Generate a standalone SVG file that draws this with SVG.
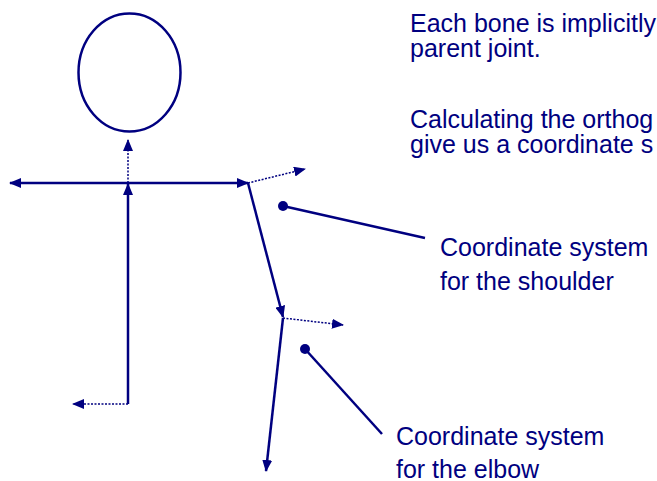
<svg xmlns="http://www.w3.org/2000/svg" width="657" height="481" viewBox="0 0 657 481">
<style>
.solid{stroke:#000080;stroke-width:2.5;fill:none}
.dot{stroke:#000080;stroke-width:1.5;stroke-dasharray:2,1.5;fill:none}
.lead{stroke:#000080;stroke-width:2.5;fill:none}
.t{font-family:"Liberation Sans",Arial,sans-serif;font-size:25px;fill:#000080}
</style>
<defs>
<marker id="ah" viewBox="0 0 12 10" refX="11" refY="5" markerWidth="12" markerHeight="10" markerUnits="userSpaceOnUse" orient="auto-start-reverse">
<path d="M0,0 L12,5 L0,10 z" fill="#000080"/>
</marker>
</defs>
<rect width="657" height="481" fill="#ffffff"/>
<g id="head"><ellipse cx="129.5" cy="72.5" rx="51" ry="59" fill="none" stroke="#000080" stroke-width="2.5"/></g>
<g id="connectors">
<line class="solid" x1="10" y1="183" x2="248" y2="183" marker-start="url(#ah)" marker-end="url(#ah)"/>
<line class="solid" x1="128" y1="404" x2="128" y2="184" marker-end="url(#ah)"/>
<line class="dot" x1="128" y1="183" x2="128" y2="140" marker-end="url(#ah)"/>
<line class="dot" x1="128" y1="404" x2="73" y2="404" marker-end="url(#ah)"/>
<line class="dot" x1="248" y1="183" x2="305" y2="169" marker-end="url(#ah)"/>
<line class="solid" x1="248" y1="183" x2="283" y2="317" marker-end="url(#ah)"/>
<line class="dot" x1="283" y1="318" x2="343" y2="325" marker-end="url(#ah)"/>
<line class="solid" x1="283" y1="318" x2="266" y2="471" marker-end="url(#ah)"/>
<line class="lead" x1="283" y1="206" x2="425" y2="238"/>
<circle cx="283" cy="206" r="5" fill="#000080"/>
<line class="lead" x1="305" y1="349" x2="382" y2="434"/>
<circle cx="305" cy="349" r="5" fill="#000080"/>
</g>
<g id="text1"><text class="t" x="410" y="32">Each bone is implicitly</text><text class="t" x="410" y="57">parent joint.</text></g>
<g id="text2"><text class="t" x="410" y="128">Calculating the orthog</text><text class="t" x="410" y="153">give us a coordinate s</text></g>
<g id="label-shoulder"><text class="t" x="440" y="256">Coordinate system</text><text class="t" x="440" y="290">for the shoulder</text></g>
<g id="label-elbow"><text class="t" x="396" y="445">Coordinate system</text><text class="t" x="396" y="478">for the elbow</text></g>
</svg>
